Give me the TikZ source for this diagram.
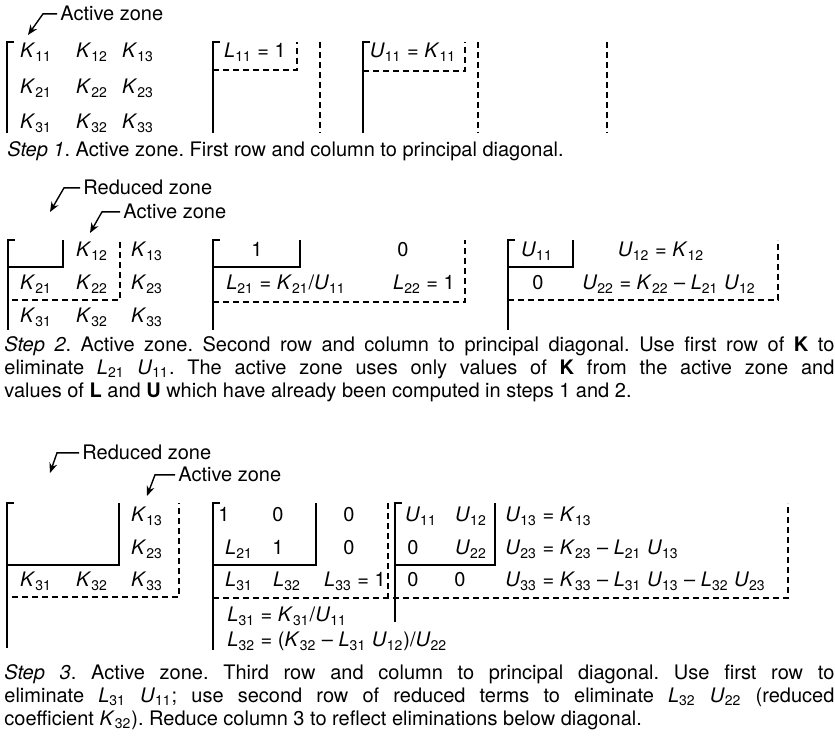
\documentclass[tikz,border=0pt]{standalone}
\usepackage{fontspec}
\setmainfont{TeX Gyre Heros}
\usetikzlibrary{arrows.meta}
% indexed symbol: italic letter, upright subscript
\newcommand{\iv}[2]{\textit{#1}\textsubscript{#2}}
% left bracket of a block
\newcommand{\lbrk}[3]{\draw[solidl] ({#1+7},#2) -- (#1,#2) -- (#1,#3);}
\frenchspacing

\begin{document}
\begin{tikzpicture}[x=0.5pt, y=-0.5pt, >={Stealth[length=5pt,width=4pt]},
    every node/.style={inner sep=0pt, font=\fontsize{10}{11.5}\selectfont},
    entry/.style={anchor=base},
    lentry/.style={anchor=base west},
    solidl/.style={line width=0.9pt},
    dashl/.style={line width=0.8pt, dash pattern=on 3pt off 2pt},
    zonearrow/.style={line width=0.7pt, ->},
    caption/.style={anchor=north west, text width=415pt, align=justify,
      execute at begin node={\tolerance=10000\hyphenpenalty=10000}}]

\useasboundingbox (0,0) rectangle (835,747);

% Step 1
\node[lentry] (az1) at (60,21) {Active zone};
\coordinate (t1) at (28,35);
\draw[zonearrow] ([xshift=-1.5pt]az1.west) -- ++(-14,0) -- (t1);

\lbrk{7}{42}{133}
\foreach \r/\y in {1/58,2/94,3/129}
  \foreach \c/\x in {1/36,2/92,3/138}
    \node[entry] (ka\r\c) at (\x,\y) {\iv{K}{\r\c}};

\lbrk{213}{42}{133}
\node[entry] (la11) at (255,58) {\iv{L}{11} = 1};
\draw[dashl] (213,70) -- (297,70) -- (297,42);
\draw[dashl] (320,42) -- (320,133);

\lbrk{363}{42}{133}
\node[entry] (ua11) at (413,58) {\iv{U}{11} = \iv{K}{11}};
\draw[dashl] (363,71) -- (465,71) -- (465,42);
\draw[dashl] (478,42) -- (478,133);
\draw[dashl] (607,42) -- (607,133);

\node[lentry] (cap1) at (7,157) {\textit{Step 1}. Active zone. First row and column to principal diagonal.};

% Step 2
\node[lentry] (rz2) at (83,195) {Reduced zone};
\node[lentry] (az2) at (123,219) {Active zone};
\coordinate (t2a) at (50,212);
\coordinate (t2b) at (90,233);
\draw[zonearrow] ([xshift=-1.5pt]rz2.west) -- ++(-16,0) -- (t2a);
\draw[zonearrow] ([xshift=-1.5pt]az2.west) -- ++(-18,0) -- (t2b);

\lbrk{8}{240}{330}
\draw[solidl] (8,267) -- (63,267) -- (63,240);
\node[entry] (kb12) at (92,257) {\iv{K}{12}};
\node[entry] (kb13) at (147,257) {\iv{K}{13}};
\foreach \r/\y in {2/290,3/323}
  \foreach \c/\x in {1/36,2/92,3/147}
    \node[entry] (kb\r\c) at (\x,\y) {\iv{K}{\r\c}};
\draw[dashl] (12,300) -- (120,300) -- (120,240);

\lbrk{213}{240}{330}
\draw[solidl] (213,267) -- (300,267) -- (300,240);
\node[entry] (lb11) at (257,257) {1};
\node[entry] (lb12) at (403,257) {0};
\node[entry] (lb21) at (286,290) {\iv{L}{21} = \iv{K}{21}/\iv{U}{11}};
\node[entry] (lb22) at (424,290) {\iv{L}{22} = 1};
\draw[dashl] (213,302) -- (465,302) -- (465,240);

\lbrk{508}{240}{330}
\draw[solidl] (508,267) -- (573,267) -- (573,240);
\node[entry] (ub11) at (537,257) {\iv{U}{11}};
\node[entry] (ub12) at (661,257) {\iv{U}{12} = \iv{K}{12}};
\node[entry] (ub21) at (538,290) {0};
\node[entry] (ub22) at (669,290) {\iv{U}{22} = \iv{K}{22} -- \iv{L}{21} \iv{U}{12}};
\draw[dashl] (508,300) -- (778,300) -- (778,240);

\node[caption] (cap2) at (4,336) {\textit{Step 2}. Active zone. Second row and column to principal diagonal. Use first row of \textbf{K} to\linebreak
  eliminate \iv{L}{21} \iv{U}{11}. The active zone uses only values of \textbf{K} from the active zone and\linebreak
  values of \textbf{L} and \textbf{U} which have already been computed in steps 1 and 2.};

% Step 3
\node[lentry] (rz3) at (82,460) {Reduced zone};
\node[lentry] (az3) at (178,482) {Active zone};
\coordinate (t3a) at (50,473);
\coordinate (t3b) at (147,496);
\draw[zonearrow] ([xshift=-1.5pt]rz3.west) -- ++(-22,0) -- (t3a);
\draw[zonearrow] ([xshift=-1.5pt]az3.west) -- ++(-20,0) -- (t3b);

\lbrk{7}{503}{648}
\draw[solidl] (7,565) -- (119,565) -- (119,503);
\node[entry] (kc13) at (147,522) {\iv{K}{13}};
\node[entry] (kc23) at (147,555) {\iv{K}{23}};
\foreach \c/\x in {1/36,2/92,3/147}
  \node[entry] (kc3\c) at (\x,587) {\iv{K}{3\c}};
\draw[dashl] (12,597) -- (179,597) -- (179,503);

\lbrk{213}{503}{650}
\draw[solidl] (213,565) -- (316,565) -- (316,503);
\node[entry] (lc11) at (224,522) {1};
\node[entry] (lc12) at (278,522) {0};
\node[entry] (lc13) at (349,522) {0};
\node[entry] (lc21) at (239,555) {\iv{L}{21}};
\node[entry] (lc22) at (278,555) {1};
\node[entry] (lc23) at (349,555) {0};
\node[entry] (lc31) at (239,587) {\iv{L}{31}};
\node[entry] (lc32) at (287,587) {\iv{L}{32}};
\node[entry] (lc33) at (355,587) {\iv{L}{33} = 1};
\draw[dashl] (388,503) -- (388,598);
\node[lentry] (lc41) at (227,622) {\iv{L}{31} = \iv{K}{31}/\iv{U}{11}};
\node[lentry] (lc42) at (227,647) {\iv{L}{32} = (\iv{K}{32} -- \iv{L}{31} \iv{U}{12})/\iv{U}{22}};

\lbrk{395}{503}{622}
\draw[solidl] (395,565) -- (495,565) -- (495,503);
\node[entry] (uc11) at (421,522) {\iv{U}{11}};
\node[entry] (uc12) at (471,522) {\iv{U}{12}};
\node[lentry] (uc13) at (505,522) {\iv{U}{13} = \iv{K}{13}};
\node[entry] (uc21) at (413,555) {0};
\node[entry] (uc22) at (471,555) {\iv{U}{22}};
\node[lentry] (uc23) at (505,555) {\iv{U}{23} = \iv{K}{23} -- \iv{L}{21} \iv{U}{13}};
\node[entry] (uc31) at (413,587) {0};
\node[entry] (uc32) at (460,587) {0};
\node[lentry] (uc33) at (505,587) {\iv{U}{33} = \iv{K}{33} -- \iv{L}{31} \iv{U}{13} -- \iv{L}{32} \iv{U}{23}};
\draw[dashl] (213,598) -- (788,598) -- (788,503);

\node[caption] (cap3) at (4,664) {\textit{Step 3}. Active zone. Third row and column to principal diagonal. Use first row to\linebreak
  eliminate \iv{L}{31} \iv{U}{11}; use second row of reduced terms to eliminate \iv{L}{32} \iv{U}{22} (reduced\linebreak
  coefficient \iv{K}{32}). Reduce column 3 to reflect eliminations below diagonal.};
\end{tikzpicture}
\end{document}
